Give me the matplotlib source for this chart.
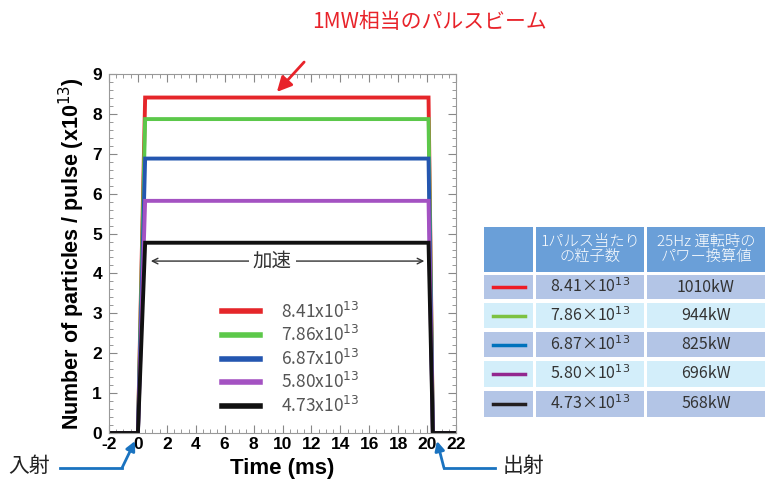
import numpy as np
import matplotlib.pyplot as plt
from matplotlib.patches import Rectangle
from matplotlib.lines import Line2D
from matplotlib.ticker import MultipleLocator

plt.rcParams['font.family'] = ['Noto Sans CJK JP', 'DejaVu Sans']
plt.rcParams['axes.unicode_minus'] = False

# data
t_pts = [-2.0, 0.0, 0.5, 20.1, 20.4, 22.0]
plateau = [8.41, 7.87, 6.88, 5.82, 4.77]
labels = ['8.41x10$^{13}$', '7.86x10$^{13}$', '6.87x10$^{13}$', '5.80x10$^{13}$', '4.73x10$^{13}$']
line_colors = ['#e5262a', '#5cc84a', '#2456b0', '#a452c2', '#111111']
xticks = [-2, 0, 2, 4, 6, 8, 10, 12, 14, 16, 18, 20, 22]
yticks = [0, 1, 2, 3, 4, 5, 6, 7, 8, 9]

tbl_header = ['', '1パルス当たり\nの粒子数', '25Hz 運転時の\nパワー換算値']
tbl_counts = ['8.41×10$^{13}$', '7.86×10$^{13}$', '6.87×10$^{13}$', '5.80×10$^{13}$', '4.73×10$^{13}$']
tbl_power = ['1010kW', '944kW', '825kW', '696kW', '568kW']
tbl_colors = ['#ee1c25', '#7dc242', '#0072bc', '#92278f', '#231f20']

W, H = 772, 483
fig = plt.figure(figsize=(W / 100, H / 100), dpi=100)
ax = fig.add_axes([109 / W, 1 - 433 / H, 347 / W, 359 / H])

for lev, lab, c in zip(plateau, labels, line_colors):
    y = [0, 0, lev, lev, 0, 0]
    ax.plot(t_pts, y, color=c, lw=2.8, label=lab, solid_joinstyle='miter')

ax.set_xlim(-2, 22)
ax.set_ylim(0, 9)
tick_font = dict(fontweight='bold', family='Liberation Sans', fontsize=12.5)
ax.set_xticks(xticks, [str(v) for v in xticks], **tick_font)
ax.set_yticks(yticks, [str(v) for v in yticks], **tick_font)
ax.xaxis.set_minor_locator(MultipleLocator(0.5))
ax.yaxis.set_minor_locator(MultipleLocator(0.2))
ax.tick_params(which='both', direction='in', top=True, right=True, color='#888888')
ax.tick_params(which='major', length=6, pad=3)
ax.tick_params(axis='y', pad=5)
ax.tick_params(which='minor', length=3)
for s in ax.spines.values():
    s.set_color('#999999')

ax.set_xlabel('Time (ms)', fontsize=16, fontweight='bold', family='Liberation Sans', labelpad=4)
ax.set_ylabel('Number of particles / pulse (x10$^{13}$)', fontsize=15.5, fontweight='bold',
              family='Liberation Sans', labelpad=4)

leg = ax.legend(loc='upper left', bbox_to_anchor=(0.28, 0.41), frameon=False, fontsize=12.5,
                handlelength=2.2, handletextpad=1.2, labelspacing=0.2)
for h in leg.get_lines():
    h.set_linewidth(4)
for tx in leg.get_texts():
    tx.set_color('#555555')

# acceleration span
ax.annotate('', xy=(0.7, 4.31), xytext=(20.0, 4.31),
            arrowprops=dict(arrowstyle='<->', color='#333333', lw=1))
ax.text(9.3, 4.31, '加速', ha='center', va='center', fontsize=14, color='#333333',
        bbox=dict(fc='white', ec='none', pad=3))

# red callout
fig.text(430 / W, 1 - 22 / H, '1MW相当のパルスビーム', color='#e8232a', fontsize=15,
         ha='center', va='center')
ax.annotate('', xy=(275 / W, 1 - 94 / H), xycoords='figure fraction',
            xytext=(306 / W, 1 - 60 / H), textcoords='figure fraction',
            arrowprops=dict(arrowstyle='-|>', color='#e8232a', lw=2, mutation_scale=22))

# blue callouts
blue = '#1a73c0'
fig.add_artist(Line2D([60 / W, 122 / W], [1 - 468 / H, 1 - 468 / H], color=blue, lw=2))
ax.annotate('', xy=(135 / W, 1 - 441 / H), xycoords='figure fraction',
            xytext=(122 / W, 1 - 468 / H), textcoords='figure fraction',
            arrowprops=dict(arrowstyle='-|>', color=blue, lw=2, mutation_scale=14,
                            shrinkA=0, shrinkB=0), annotation_clip=False)
fig.add_artist(Line2D([444 / W, 495 / W], [1 - 468 / H, 1 - 468 / H], color=blue, lw=2))
ax.annotate('', xy=(437 / W, 1 - 441 / H), xycoords='figure fraction',
            xytext=(444 / W, 1 - 468 / H), textcoords='figure fraction',
            arrowprops=dict(arrowstyle='-|>', color=blue, lw=2, mutation_scale=14,
                            shrinkA=0, shrinkB=0), annotation_clip=False)
fig.text(8 / W, 1 - 466 / H, '入射', fontsize=15, va='center', ha='left', color='#222222')
fig.text(503 / W, 1 - 466 / H, '出射', fontsize=15, va='center', ha='left', color='#222222')

# table
col_x = [(484, 533), (536, 644), (647, 765)]
head_y = (227, 272)
row_y = [(275, 299), (303, 328), (332, 357), (361, 387), (391, 417)]
row_bg = ['#b3c5e6', '#d3eefa', '#b3c5e6', '#d3eefa', '#b3c5e6']


def cell(x0, x1, y0, y1, fc):
    fig.add_artist(Rectangle((x0 / W, 1 - y1 / H), (x1 - x0) / W, (y1 - y0) / H,
                             transform=fig.transFigure, fc=fc, ec='none'))
    return (x0 + x1) / 2 / W, 1 - (y0 + y1) / 2 / H


for (x0, x1), txt in zip(col_x, tbl_header):
    cx, cy = cell(x0, x1, head_y[0], head_y[1], '#6a9fd8')
    fig.text(cx, cy, txt, color='white', fontsize=11, ha='center', va='center',
             linespacing=1.1, fontweight='light')

for i, (y0, y1) in enumerate(row_y):
    cx, cy = cell(col_x[0][0], col_x[0][1], y0, y1, row_bg[i])
    fig.add_artist(Line2D([cx - 16 / W, cx + 16 / W], [cy, cy], color=tbl_colors[i], lw=2.5))
    cx, cy = cell(col_x[1][0], col_x[1][1], y0, y1, row_bg[i])
    fig.text(cx, cy, tbl_counts[i], color='#333333', fontsize=11.5, ha='center', va='center')
    cx, cy = cell(col_x[2][0], col_x[2][1], y0, y1, row_bg[i])
    fig.text(cx, cy, tbl_power[i], color='#333333', fontsize=11.5, ha='center', va='center')

fig.savefig('out.png', dpi=100)
